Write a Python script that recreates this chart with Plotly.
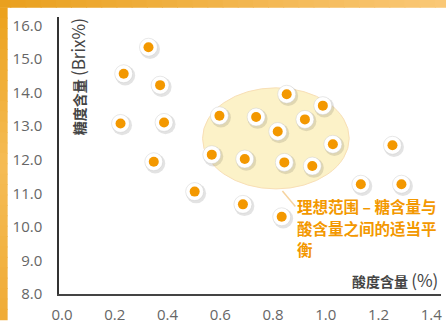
import plotly.graph_objects as go

# ---- data ----
acidity = [0.328, 0.234, 0.372, 0.222, 0.387, 0.348, 0.503, 0.686, 0.833,
           0.597, 0.736, 0.852, 0.818, 0.921, 0.989, 0.568, 0.693, 0.843,
           0.949, 1.027, 1.133, 1.253, 1.287]
brix = [15.35, 14.56, 14.22, 13.08, 13.11, 11.94, 11.05, 10.67, 10.30,
        13.31, 13.27, 13.95, 12.84, 13.20, 13.61, 12.15, 12.02, 11.92,
        11.81, 12.46, 11.27, 12.43, 11.27]
x_ticks = [0.0, 0.2, 0.4, 0.6, 0.8, 1.0, 1.2, 1.4]
y_ticks = [8, 9, 10, 11, 12, 13, 14, 15, 16]
ideal_x = [0.533, 1.089]
ideal_y = [11.13, 14.14]
note_lines = ["理想范围 – 糖含量与", "酸含量之间的适当平", "衡"]
x_title = "<b>酸度含量</b> <span style='font-size:17px;font-weight:normal'>(%)</span>"
y_title = "<b>糖度含量</b> <span style='font-size:17px;font-weight:normal'>(Brix%)</span>"

W, H = 446, 328
ML, MR, MT, MB = 59, 4, 17, 26
PW, PH = W - ML - MR, H - MT - MB
XR = [-0.0113, 1.437]
YR = [8.0, 16.25]
px_x = (XR[1] - XR[0]) / PW
px_y = (YR[1] - YR[0]) / PH


def paper_x(px):
    return (px - ML) / PW


def paper_y(py):
    return (H - MB - py) / PH


ORANGE = "#f39800"
fig = go.Figure()

# marker shadow, white ring, orange dot
fig.add_trace(go.Scatter(
    x=[a + 1.5 * px_x for a in acidity], y=[b - 1.8 * px_y for b in brix],
    mode="markers", hoverinfo="skip",
    marker=dict(size=20, color="rgba(0,0,0,0.11)", line=dict(width=0))))
fig.add_trace(go.Scatter(
    x=acidity, y=brix, mode="markers", hoverinfo="skip",
    marker=dict(size=18, color="white", line=dict(width=0.6, color="rgba(200,200,200,0.7)"))))
fig.add_trace(go.Scatter(
    x=acidity, y=brix, mode="markers",
    marker=dict(size=10, color=ORANGE, line=dict(width=0))))

shapes = []


def lerp(c1, c2, t):
    return "rgb(%d,%d,%d)" % tuple(round(c1[i] + (c2[i] - c1[i]) * t) for i in range(3))


# orange gradient frame (top band and left band)
n = 30
c_l, c_r = (233, 160, 30), (250, 200, 118)
for i in range(n):
    x0 = -5 + (W + 10) * i / n
    x1 = -5 + (W + 10) * (i + 1) / n + 1
    shapes.append(dict(type="rect", xref="paper", yref="paper", layer="below",
                       x0=paper_x(x0), x1=paper_x(x1), y0=paper_y(7.5), y1=paper_y(-5),
                       fillcolor=lerp(c_l, c_r, i / (n - 1)), line=dict(width=0)))
c_t, c_m, c_b = (236, 162, 30), (245, 188, 85), (240, 172, 55)
for i in range(n):
    y0 = 7 + (H - 7) * i / n
    y1 = 7 + (H - 7) * (i + 1) / n + 1
    t = i / (n - 1)
    col = lerp(c_t, c_m, t * 2) if t < 0.5 else lerp(c_m, c_b, (t - 0.5) * 2)
    shapes.append(dict(type="rect", xref="paper", yref="paper", layer="below",
                       x0=paper_x(-5), x1=paper_x(7.5), y0=paper_y(y1), y1=paper_y(y0),
                       fillcolor=col, line=dict(width=0)))

# ideal zone ellipse
shapes.append(dict(type="circle", xref="x", yref="y", layer="below",
                   x0=ideal_x[0], x1=ideal_x[1], y0=ideal_y[0], y1=ideal_y[1],
                   fillcolor="#fcf2c8", line=dict(color="#f8dfb6", width=1)))
# pointer line
shapes.append(dict(type="line", xref="paper", yref="paper", layer="below",
                   x0=paper_x(283), y0=paper_y(196), x1=paper_x(296), y1=paper_y(212),
                   line=dict(color="#f6d39e", width=1.5)))

annotations = [
    dict(text=y_title, xref="paper", yref="paper", x=paper_x(77), y=paper_y(78),
         textangle=-90, showarrow=False, xanchor="center", yanchor="middle",
         font=dict(family="Noto Sans CJK SC, Open Sans", size=14, color="#444")),
    dict(text=x_title, xref="paper", yref="paper", x=paper_x(441), y=paper_y(287),
         showarrow=False, xanchor="right", yanchor="middle",
         font=dict(family="Noto Sans CJK SC, Open Sans", size=14, color="#444")),
]
for k, line in enumerate(note_lines):
    annotations.append(dict(
        text=line, xref="paper", yref="paper", x=paper_x(297), y=paper_y(211 + 22.6 * k),
        showarrow=False, xanchor="left", yanchor="middle", align="left", borderpad=0,
        font=dict(family="Noto Sans CJK SC", size=15.5, color=ORANGE, weight="bold")))

fig.update_layout(
    width=W, height=H,
    margin=dict(l=ML, r=MR, t=MT, b=MB),
    paper_bgcolor="white", plot_bgcolor="white",
    showlegend=False,
    shapes=shapes,
    xaxis=dict(range=XR, tickvals=x_ticks, ticktext=["%.1f" % v for v in x_ticks],
               showgrid=False, zeroline=False, showline=True, linecolor="#444",
               linewidth=2, ticks="", ticklabelstandoff=6,
               tickfont=dict(family="Open Sans", size=15, color="#666")),
    yaxis=dict(range=YR, tickvals=y_ticks, ticktext=["%.1f" % v for v in y_ticks],
               showgrid=False, zeroline=False, showline=True, linecolor="#333",
               linewidth=1.5, ticks="", ticklabelstandoff=12,
               tickfont=dict(family="Open Sans", size=15, color="#666")),
    annotations=annotations,
)

fig.write_html("out.html")
